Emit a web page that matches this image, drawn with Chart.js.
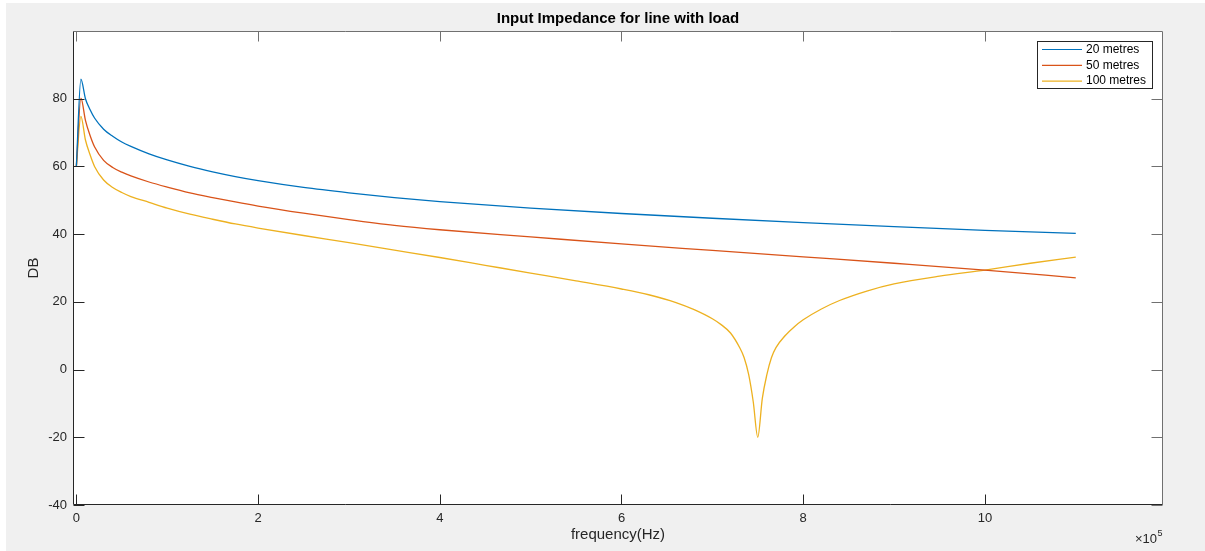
<!DOCTYPE html>
<html>
<head>
<meta charset="utf-8">
<title>Input Impedance for line with load</title>
<script src="https://cdn.jsdelivr.net/npm/chart.js@4.4.1/dist/chart.umd.min.js"></script>
<style>
  html, body { margin: 0; padding: 0; background: #fff; }
  canvas { display: block; }
</style>
</head>
<body>
<canvas id="myChart" width="1205" height="551"></canvas>
<script>
// frequency in Hz, values in DB
const freq = [0, 5000, 10000, 15000, 20000, 30000, 40000, 50000, 60000, 80000,
  100000, 125000, 150000, 175000, 200000, 250000, 300000, 350000, 400000,
  500000, 600000, 700000, 800000, 900000, 1000000, 1100000];
const db20 = [60, 85.8, 80.0, 76.8, 74.3, 71.0, 68.9, 67.2, 65.9, 63.7,
  61.9, 60.0, 58.4, 57.0, 55.8, 53.8, 52.2, 50.8, 49.6,
  47.7, 46.1, 44.7, 43.4, 42.2, 41.1, 40.2];
const db50 = [60, 80.2, 73.6, 69.2, 65.8, 61.8, 59.7, 58.3, 57.2, 55.4,
  53.9, 52.2, 50.8, 49.5, 48.3, 46.2, 44.3, 42.6, 41.3,
  39.2, 37.1, 35.2, 33.3, 31.4, 29.4, 27.1];

const freq100 = [0, 5000, 10000, 15000, 20000, 30000, 40000, 50000, 60000, 80000,
  100000, 125000, 150000, 175000, 200000, 250000, 300000, 350000, 400000,
  450000, 500000, 550000, 600000, 630000, 660000, 680000, 700000, 710000,
  720000, 730000, 735000, 740000, 745000, 750000, 755000, 760000, 765000,
  770000, 780000, 790000, 800000, 820000, 840000, 870000, 900000, 950000,
  1000000, 1050000, 1100000];
const db100 = [60, 74.8, 67.8, 63.5, 60.0, 56.0, 53.8, 52.3, 51.1, 49.4,
  47.7, 45.9, 44.4, 43.0, 41.8, 39.6, 37.5, 35.3, 33.1,
  30.8, 28.5, 26.2, 23.8, 22.1, 19.8, 17.7, 15.0, 13.2,
  10.8, 6.5, 3.5, -1.5, -9.5, -20, -8.5, -1.5, 3.5,
  6.5, 10.0, 12.6, 14.7, 17.9, 20.4, 23.2, 25.3, 27.6,
  29.4, 31.4, 33.2];

const seriesLabels = ['20 metres', '50 metres', '100 metres'];
const xTicks = [0, 200000, 400000, 600000, 800000, 1000000];
const yTicks = [-40, -20, 0, 20, 40, 60, 80];

const toPoints = (xs, ys) => xs.map((x, i) => ({ x: x, y: ys[i] }));

const FONT = '"Liberation Sans", Arial, Helvetica, sans-serif';
const AXIS = '#262626';
Chart.defaults.font.family = FONT;

const data = {
  datasets: [{
    label: seriesLabels[0],
    data: toPoints(freq, db20),
    borderColor: '#0072BD'
  }, {
    label: seriesLabels[1],
    data: toPoints(freq, db50),
    borderColor: '#D95319'
  }, {
    label: seriesLabels[2],
    data: toPoints(freq100, db100),
    borderColor: '#EDB120'
  }]
};

// background, inward ticks, box, title, legend and the x10^5 multiplier
const matlabLook = {
  id: 'matlabLook',
  beforeDraw(chart) {
    const ctx = chart.ctx, a = chart.chartArea;
    ctx.save();
    ctx.fillStyle = '#ffffff';
    ctx.fillRect(0, 0, chart.width, chart.height);
    ctx.fillStyle = '#f0f0f0';
    ctx.fillRect(6, 3, chart.width - 6, chart.height - 3);
    ctx.fillStyle = '#ffffff';
    ctx.fillRect(a.left, a.top, a.right - a.left, a.bottom - a.top);
    ctx.restore();
  },
  afterDraw(chart) {
    const ctx = chart.ctx, a = chart.chartArea;
    const xs = chart.scales.x, ys = chart.scales.y;
    const line = (x1, y1, x2, y2) => { ctx.beginPath(); ctx.moveTo(x1, y1); ctx.lineTo(x2, y2); ctx.stroke(); };
    const L = Math.round(a.left) + 0.5, R = Math.round(a.right) - 0.5;
    const T = Math.round(a.top) + 0.5, B = Math.round(a.bottom) - 0.5;
    ctx.save();
    ctx.lineWidth = 1;
    // box
    ctx.strokeStyle = '#707070';
    line(L, T, R, T);
    line(R, T, R, B);
    ctx.strokeStyle = AXIS;
    line(L, T, L, B);
    line(L, B, R, B);
    // inward ticks
    xs.ticks.forEach(t => {
      const px = Math.round(xs.getPixelForValue(t.value)) + 0.5;
      ctx.strokeStyle = AXIS;
      line(px, B, px, B - 10);
      ctx.strokeStyle = '#707070';
      line(px, T, px, T + 10);
    });
    ys.ticks.forEach(t => {
      const py = Math.round(ys.getPixelForValue(t.value)) + 0.5;
      ctx.strokeStyle = AXIS;
      line(L, py, L + 11, py);
      ctx.strokeStyle = '#707070';
      line(R, py, R - 11, py);
    });

    // title
    ctx.fillStyle = '#000';
    ctx.font = 'bold 15px ' + FONT;
    ctx.textAlign = 'center';
    ctx.textBaseline = 'middle';
    ctx.fillText('Input Impedance for line with load', (a.left + a.right) / 2, 19);

    // legend
    const bx = 1037.5, by = 41.5, bw = 115, bh = 47;
    ctx.fillStyle = '#fff';
    ctx.fillRect(bx, by, bw, bh);
    ctx.strokeStyle = AXIS;
    ctx.strokeRect(bx, by, bw, bh);
    ctx.font = '12px ' + FONT;
    ctx.textAlign = 'left';
    chart.data.datasets.forEach((ds, i) => {
      const ry = 49.5 + i * 15.8;
      ctx.strokeStyle = ds.borderColor;
      ctx.lineWidth = 1.2;
      line(1042, ry, 1082, ry);
      ctx.fillStyle = '#000';
      ctx.fillText(ds.label, 1086, ry);
    });

    // x10^5
    ctx.fillStyle = AXIS;
    ctx.textAlign = 'right';
    ctx.textBaseline = 'alphabetic';
    ctx.font = '13px ' + FONT;
    ctx.fillText('\u00d710', 1157, 543);
    ctx.textAlign = 'left';
    ctx.font = '9px ' + FONT;
    ctx.fillText('5', 1157.5, 536);
    ctx.restore();
  }
};

const config = {
  type: 'line',
  data,
  options: {
    responsive: false,
    devicePixelRatio: 1,
    animation: false,
    layout: { padding: { top: 31, right: 42, left: 0, bottom: 0 } },
    elements: {
      point: { radius: 0 },
      line: { borderWidth: 1.3, cubicInterpolationMode: 'monotone' }
    },
    plugins: {
      legend: { display: false },
      title: { display: false },
      tooltip: { enabled: false }
    },
    scales: {
      x: {
        type: 'linear',
        min: -3700,
        max: 1196000,
        afterBuildTicks: s => { s.ticks = xTicks.map(v => ({ value: v })); },
        afterFit: s => { s.height = 46; },
        grid: { display: false, drawTicks: false },
        border: { display: false },
        ticks: {
          padding: 6,
          maxRotation: 0,
          color: AXIS,
          font: { size: 13 },
          callback: v => String(v / 100000)
        },
        title: {
          display: true,
          text: 'frequency(Hz)',
          color: AXIS,
          font: { size: 15 },
          padding: { top: 0, bottom: 7 }
        }
      },
      y: {
        min: -40,
        max: 100,
        afterBuildTicks: s => { s.ticks = yTicks.map(v => ({ value: v })); },
        afterFit: s => { s.width = 73; },
        grid: { display: false, drawTicks: false },
        border: { display: false },
        ticks: {
          padding: 6,
          color: AXIS,
          font: { size: 13 }
        },
        title: {
          display: true,
          text: 'DB',
          color: AXIS,
          font: { size: 15 },
          padding: { top: 25, bottom: 0 }
        }
      }
    }
  },
  plugins: [matlabLook]
};

let myChart = new Chart(
  document.getElementById('myChart'),
  config
);
</script>
</body>
</html>
